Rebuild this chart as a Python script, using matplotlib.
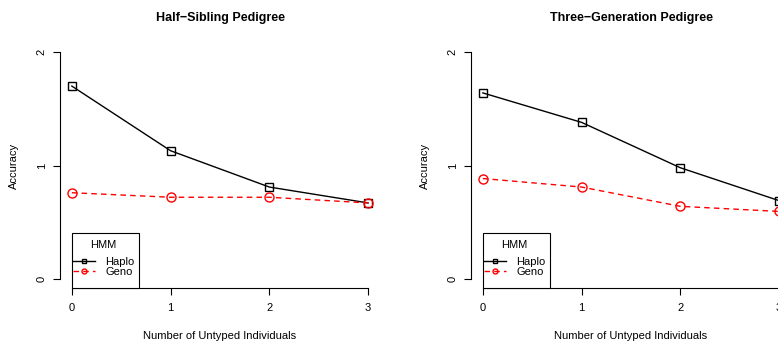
import matplotlib
matplotlib.use('Agg')
import matplotlib.pyplot as plt
from matplotlib.patches import Rectangle

plt.rcParams['font.family'] = ['Liberation Sans', 'DejaVu Sans']

# data
untyped = [0, 1, 2, 3]
half_haplo = [1.70, 1.13, 0.81, 0.67]
half_geno = [0.76, 0.72, 0.72, 0.67]
three_haplo = [1.64, 1.38, 0.98, 0.69]
three_geno = [0.885, 0.81, 0.64, 0.595]
titles = ['Half\u2212Sibling Pedigree', 'Three\u2212Generation Pedigree']
yticks = [0, 1, 2]

fig = plt.figure(figsize=(7.78, 3.46), dpi=100)
ax1 = fig.add_axes([60/778, 58/346, 320/778, 245/346])
ax2 = fig.add_axes([471/778, 58/346, 320/778, 245/346])

panels = [(ax1, half_haplo, half_geno), (ax2, three_haplo, three_geno)]
for i, (ax, haplo, geno) in enumerate(panels):
    ax.plot(untyped, haplo, color='black', lw=1.0, marker='s', ms=6.2,
            mfc='none', mec='black', mew=1.0, label='Haplo')
    ax.plot(untyped, geno, color='red', lw=1.0, ls=(0, (4, 3)), marker='o', ms=6.5,
            mfc='none', mec='red', mew=1.0, label='Geno')
    ax.set_xlim(-0.12, 3.12)
    ax.set_ylim(-0.08, 2.08)
    ax.set_xticks(untyped)
    ax.set_yticks(yticks)
    ax.set_yticklabels([str(t) for t in yticks], rotation=90, va='center')
    for s in ['top', 'right']:
        ax.spines[s].set_visible(False)
    ax.spines['left'].set_bounds(0, 2)
    ax.spines['bottom'].set_bounds(0, 3)
    ax.tick_params(direction='out', length=5, width=0.8, labelsize=8, pad=6)
    ax.tick_params(axis='y', pad=4.5)
    ax.set_xlabel('Number of Untyped Individuals', fontsize=8, labelpad=13)
    ax.set_ylabel('Accuracy', fontsize=8, labelpad=12.5)
    ax.set_title(titles[i], fontsize=9, fontweight='bold', pad=16)

    # R style legend box, bottom sits on the plot region edge
    ax.add_patch(Rectangle((0.0375, 0.0), 0.2095, 0.2245, transform=ax.transAxes,
                           fill=True, fc='white', ec='black', lw=0.8, zorder=4,
                           clip_on=False))
    leg = ax.legend(title='HMM', loc='upper left', bbox_to_anchor=(0.03, 0.21),
                    borderaxespad=0, fontsize=8, title_fontsize=8,
                    markerscale=0.55, handlelength=2.0, frameon=False,
                    borderpad=0.3, labelspacing=0.05, handletextpad=0.9)
    leg.set_zorder(5)
    leg._legend_box.sep = 5

fig.savefig('out.png', dpi=100)
